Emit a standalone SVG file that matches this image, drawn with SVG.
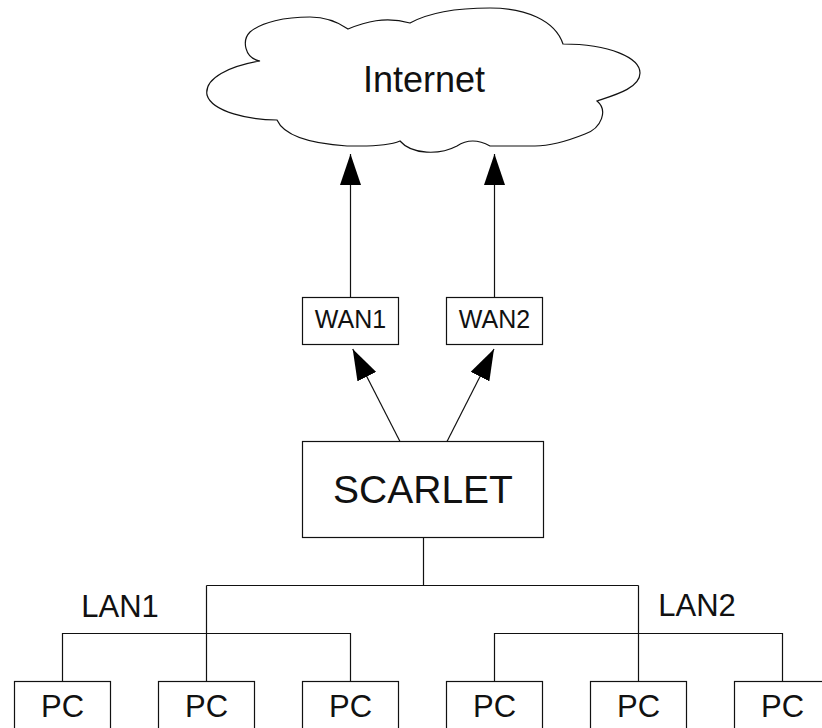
<svg xmlns="http://www.w3.org/2000/svg" width="822" height="728" viewBox="0 0 822 728">
<style>
.box{fill:#fff;stroke:#111;stroke-width:1.2}
.ln{fill:none;stroke:#111;stroke-width:1.2}
.t{font-family:"Liberation Sans",Arial,sans-serif;fill:#111;text-anchor:middle}
</style>
<defs>
<marker id="ah" markerUnits="userSpaceOnUse" markerWidth="31" markerHeight="21" refX="31" refY="10.5" orient="auto">
<path d="M0,0 L31,10.5 L0,21 Z" fill="#000"/>
</marker>
</defs>
<rect width="822" height="728" fill="#fff"/>
<g id="connectors">
<line class="ln" x1="350.5" y1="297.5" x2="350.5" y2="154" marker-end="url(#ah)"/>
<line class="ln" x1="494.5" y1="297.5" x2="494.5" y2="154" marker-end="url(#ah)"/>
<line class="ln" x1="400" y1="441.5" x2="352.7" y2="349" marker-end="url(#ah)"/>
<line class="ln" x1="447" y1="441.5" x2="494" y2="349" marker-end="url(#ah)"/>
<path class="ln" d="M423.5,537.5 V585.5 M206.5,585.5 H638.5 M206.5,585.5 V681.5 M638.5,585.5 V681.5 M62.5,681.5 V633.5 H350.5 V681.5 M494.5,681.5 V633.5 H782.5 V681.5"/>
</g>
<g id="internet">
<path class="ln" d="M260,61 C244,58 242,40 250,32 C262,22 285,17 310,17 C325,17 338,22 348,29 C365,22 385,16 410,23 C430,12 460,8 490,8 C525,8 555,20 563,44 C610,44 640,58 640,73 C640,88 615,95 597,101 C608,110 602,128 585,134 C570,140 550,146 535,146 L490,146 Q472,136 457,146 C440,155 412,155 400,141 Q388,146 360,146 L347,146 C317,144 285,138 277,120 C250,120 212,112 207,95 C204,78 230,66 260,61 Z"/>
<text class="t" x="424" y="92" font-size="36">Internet</text>
</g>
<g id="wan1">
<rect class="box" x="302.5" y="297.5" width="96" height="47"/>
<text class="t" x="350.5" y="328" font-size="25">WAN1</text>
</g>
<g id="wan2">
<rect class="box" x="446.5" y="297.5" width="96" height="47"/>
<text class="t" x="494.5" y="328" font-size="25">WAN2</text>
</g>
<g id="scarlet">
<rect class="box" x="302.5" y="441.5" width="241" height="96"/>
<text class="t" x="423" y="503" font-size="39">SCARLET</text>
</g>
<g id="lan1"><text class="t" x="120" y="617" font-size="31">LAN1</text></g>
<g id="lan2"><text class="t" x="697" y="616" font-size="31">LAN2</text></g>
<g id="pc1"><rect class="box" x="14.5" y="681.5" width="96" height="60"/><text class="t" x="62.5" y="717" font-size="31">PC</text></g>
<g id="pc2"><rect class="box" x="158.5" y="681.5" width="96" height="60"/><text class="t" x="206.5" y="717" font-size="31">PC</text></g>
<g id="pc3"><rect class="box" x="302.5" y="681.5" width="96" height="60"/><text class="t" x="350.5" y="717" font-size="31">PC</text></g>
<g id="pc4"><rect class="box" x="446.5" y="681.5" width="96" height="60"/><text class="t" x="494.5" y="717" font-size="31">PC</text></g>
<g id="pc5"><rect class="box" x="590.5" y="681.5" width="96" height="60"/><text class="t" x="638.5" y="717" font-size="31">PC</text></g>
<g id="pc6"><rect class="box" x="734.5" y="681.5" width="96" height="60"/><text class="t" x="782.5" y="717" font-size="31">PC</text></g>
</svg>
